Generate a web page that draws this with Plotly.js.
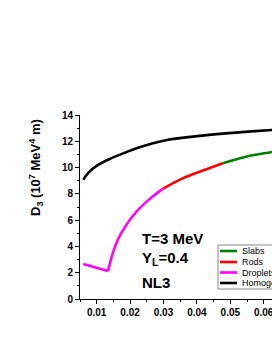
<!DOCTYPE html>
<html>
<head>
<meta charset="utf-8">
<script src="https://cdn.plot.ly/plotly-3.0.1.min.js"></script>
<style>
html,body{margin:0;padding:0;background:#fff;overflow:hidden;}
#chart{width:272px;height:352px;}
</style>
</head>
<body>
<div id="chart"></div>
<script>
// Data
var homX = [0.006, 0.0074, 0.0104, 0.0143, 0.0184, 0.0219, 0.031, 0.0416, 0.0516, 0.0625, 0.066];
var homY = [9.06, 9.57, 10.2, 10.7, 11.13, 11.47, 12.1, 12.43, 12.66, 12.86, 12.92];
var dropX = [0.006, 0.0134, 0.0141, 0.0151, 0.0164, 0.0184, 0.0219, 0.0258, 0.0299];
var dropY = [2.66, 2.13, 2.85, 3.7, 4.55, 5.45, 6.64, 7.6, 8.4];
var rodsX = [0.0299, 0.0357, 0.0416, 0.0478];
var rodsY = [8.4, 9.18, 9.76, 10.33];
var slabX = [0.0478, 0.0547, 0.0625, 0.066];
var slabY = [10.33, 10.83, 11.19, 11.38];
var seriesNames = ["Slabs", "Rods", "Droplets", "Homogeneous"];
var seriesColors = ["#008000", "#ff0000", "#ff00ff", "#000000"];
var xTicks = [0.01, 0.02, 0.03, 0.04, 0.05, 0.06];
var yTicks = [0, 2, 4, 6, 8, 10, 12, 14];

var W = 272, H = 352;
var L = 80, T = 115, Bpx = 299, R = 272;
var pw = R - L, ph = Bpx - T;
var pxPerX = 3340;
var x0 = 0.005, x1 = x0 + pw / pxPerX;
function px(x){ return (x - L) / pw; }
function py(y){ return (Bpx - y) / ph; }

var fam = "Liberation Sans, Arial, sans-serif";
function tr(x, y, c, shape){
  return {x:x, y:y, mode:'lines', type:'scatter', showlegend:false, hoverinfo:'skip',
    line:{color:c, width:2.6, shape:shape||'linear', smoothing:0.9}};
}
var data = [
  tr(homX, homY, seriesColors[3], 'spline'),
  tr(dropX.slice(0, 2), dropY.slice(0, 2), seriesColors[2], 'linear'),
  tr(dropX.slice(1), dropY.slice(1), seriesColors[2], 'spline'),
  tr(rodsX, rodsY, seriesColors[1], 'spline'),
  tr(slabX, slabY, seriesColors[0], 'spline')
];

var shapes = [];
var annotations = [];
// legend box
shapes.push({type:'rect', xref:'paper', yref:'paper', x0:px(218), x1:px(300), y0:py(289), y1:py(245),
  line:{color:'#888', width:1}, fillcolor:'#fff', layer:'above'});
var legY = [251, 262, 272.5, 283];
for (var i = 0; i < seriesNames.length; i++) {
  shapes.push({type:'line', xref:'paper', yref:'paper', x0:px(220), x1:px(237), y0:py(legY[i]), y1:py(legY[i]),
    line:{color:seriesColors[i], width:2.6}, layer:'above'});
  annotations.push({xref:'paper', yref:'paper', x:px(240), y:py(legY[i]), xanchor:'left', yanchor:'middle',
    text:seriesNames[i], showarrow:false, font:{family:fam, size:9, color:'#000'}});
}
// text annotations
var infoTexts = ["T=3 MeV", "Y<sub>L</sub>=0.4", "NL3"];
var infoY = [238, 258, 282];
for (var j = 0; j < infoTexts.length; j++) {
  annotations.push({xref:'paper', yref:'paper', x:px(140), y:py(infoY[j]), xanchor:'left', yanchor:'middle',
    text:infoTexts[j], showarrow:false, font:{family:fam, size:15, color:'#000', weight:'bold'}});
}
// y-axis title
annotations.push({xref:'paper', yref:'paper', x:px(36), y:py(168), xanchor:'center', yanchor:'middle',
  textangle:-90, text:"D<sub>3</sub> (10<sup>7</sup> MeV<sup>4</sup> m)", showarrow:false,
  font:{family:fam, size:13, color:'#000', weight:'bold'}});

var layout = {
  width:W, height:H,
  margin:{l:L, r:W - R, t:T, b:H - Bpx, pad:0},
  paper_bgcolor:'#fff', plot_bgcolor:'#fff',
  showlegend:false,
  xaxis:{range:[x0, x1], tickmode:'array', tickvals:xTicks, ticktext:xTicks.map(function(v){return v.toFixed(2);}),
    ticks:'outside', ticklen:4, tickwidth:1, tickcolor:'#000', ticklabeloverflow:'allow',
    showline:true, linecolor:'#000', linewidth:1, showgrid:false, zeroline:false,
    tickfont:{family:fam, size:10, color:'#000', weight:'bold'},
    minor:{dtick:0.005, tick0:0, ticks:'outside', ticklen:2, tickcolor:'#000', showgrid:false}},
  yaxis:{range:[0, 14], tickmode:'array', tickvals:yTicks,
    ticks:'outside', ticklen:4, tickwidth:1, tickcolor:'#000',
    showline:true, linecolor:'#000', linewidth:1, showgrid:false, zeroline:false,
    tickfont:{family:fam, size:10, color:'#000', weight:'bold'},
    minor:{dtick:1, tick0:0, ticks:'outside', ticklen:2, tickcolor:'#000', showgrid:false}},
  shapes:shapes,
  annotations:annotations
};
Plotly.newPlot('chart', data, layout, {staticPlot:true, displayModeBar:false});
</script>
</body>
</html>
